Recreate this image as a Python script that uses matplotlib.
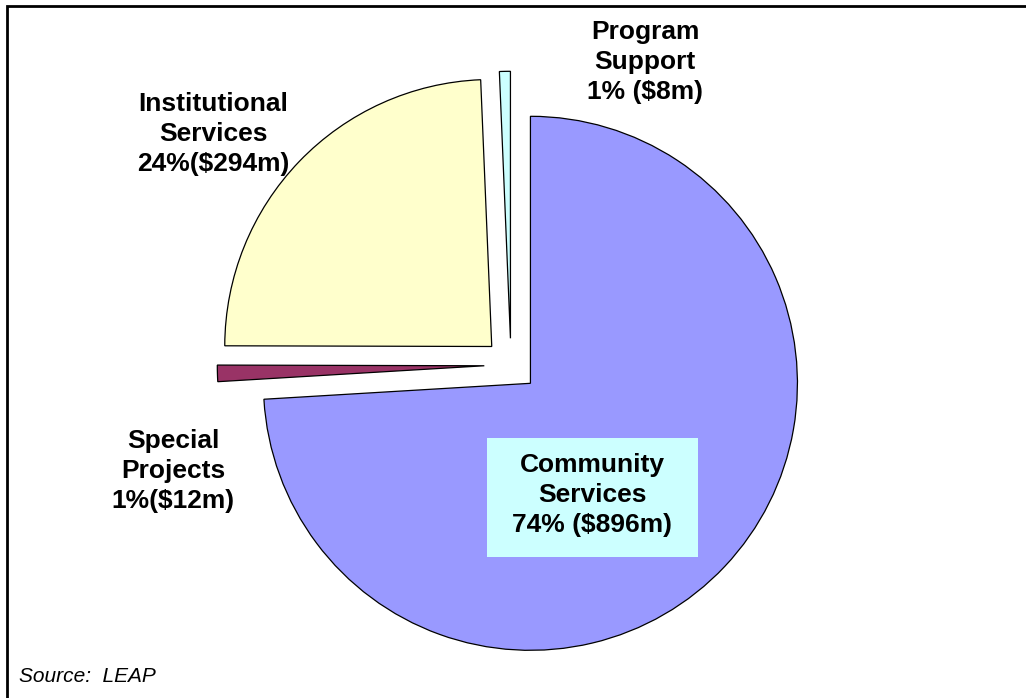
import matplotlib.pyplot as plt
from matplotlib.patches import Rectangle

# spending split, $m (clockwise from 12 o'clock)
segments = ["Community Services", "Special Projects", "Institutional Services", "Program Support"]
amounts = [896, 12, 294, 8]
colours = ["#9999FF", "#993366", "#FFFFCC", "#CCFFFF"]

labels = {
    "Community Services": "Community\nServices\n74% ($896m)",
    "Special Projects": "Special\nProjects\n1%($12m)",
    "Institutional Services": "Institutional\nServices\n24%($294m)",
    "Program Support": "Program\nSupport\n1% ($8m)",
}

W, H = 1026, 698
fig = plt.figure(figsize=(W / 100, H / 100), dpi=100)
ax = fig.add_axes([0, 0, 1, 1])

ax.pie(amounts, colors=colours, startangle=90, counterclock=False,
       explode=[0.1] * len(amounts),
       wedgeprops=dict(edgecolor="black", linewidth=0.9))

# pie centre and radius in pixels
cx, cy, r = 511, 365, 267
ax.set_xlim(-cx / r, (W - cx) / r)
ax.set_ylim(-(H - cy) / r, cy / r)
ax.set_aspect("auto")
ax.axis("off")


def fx(px):
    return px / W


def fy(py):
    return 1 - py / H


bold = dict(fontsize=19, fontweight="bold", family=["Liberation Sans", "DejaVu Sans"],
            ha="center", va="center", multialignment="center", linespacing=1.3)

fig.patches.append(Rectangle((fx(487), fy(557)), fx(698) - fx(487), fy(438) - fy(557),
                             transform=fig.transFigure, facecolor="#CCFFFF",
                             edgecolor="none", zorder=2))
fig.text(fx(592), fy(495), labels["Community Services"], zorder=3, **bold)
fig.text(fx(645), fy(62), labels["Program Support"], **bold)
fig.text(fx(213), fy(134), labels["Institutional Services"], **bold)
fig.text(fx(173), fy(471), labels["Special Projects"], **bold)

fig.text(fx(19), fy(676), "Source:  LEAP", fontsize=15, fontstyle="italic",
         family=["Liberation Sans", "DejaVu Sans"], ha="left", va="center")

# frame round the chart (runs off the right and bottom edges)
fig.patches.append(Rectangle((fx(7), fy(H + 10)), fx(W + 20) - fx(7), fy(6) - fy(H + 10),
                             transform=fig.transFigure, fill=False,
                             edgecolor="black", linewidth=2))

fig.savefig("out.png", dpi=100)
